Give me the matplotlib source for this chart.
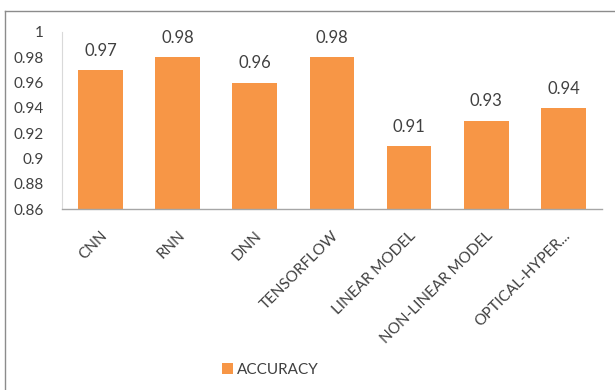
import matplotlib

matplotlib.use("Agg")
import matplotlib.pyplot as plt
from matplotlib.lines import Line2D
from matplotlib.patches import Patch

plt.rcParams["font.family"] = ["Lato", "DejaVu Sans"]

models = [
    "CNN",
    "RNN",
    "DNN",
    "TENSORFLOW",
    "LINEAR MODEL",
    "NON-LINEAR MODEL",
    "OPTICAL-HYPER...",
]
accuracy = [0.97, 0.98, 0.96, 0.98, 0.91, 0.93, 0.94]
y_ticks = [0.86, 0.88, 0.90, 0.92, 0.94, 0.96, 0.98, 1.00]
y_tick_labels = ["0.86", "0.88", "0.9", "0.92", "0.94", "0.96", "0.98", "1"]

BAR_COLOR = "#F79646"
TEXT_COLOR = "#404040"

fig = plt.figure(figsize=(6.15, 3.9), dpi=100)
ax = fig.add_axes([0.1008, 0.464, 0.878, 0.454])

x = range(len(models))
bars = ax.bar(x, accuracy, width=0.58, color=BAR_COLOR, bottom=0)
ax.set_ylim(0.86, 1.0)
ax.set_xlim(-0.5, len(models) - 0.5)

ax.set_yticks(y_ticks)
ax.set_yticklabels(y_tick_labels, fontsize=11, color=TEXT_COLOR)
ax.tick_params(axis="y", length=0, pad=13)
ax.set_xticks(list(x))
ax.set_xticklabels(models, rotation=45, ha="right", rotation_mode="anchor",
                   fontsize=11, color=TEXT_COLOR)
ax.tick_params(axis="x", length=0, pad=14)

for side in ("top", "right"):
    ax.spines[side].set_visible(False)
ax.spines["left"].set_color("#D9D9D9")
ax.spines["bottom"].set_color("#A6A6A6")
ax.spines["bottom"].set_linewidth(1.0)

for bar, value in zip(bars, accuracy):
    ax.annotate(
        f"{value:.2f}",
        (bar.get_x() + bar.get_width() / 2, value),
        xytext=(0, 8),
        textcoords="offset points",
        ha="center",
        va="bottom",
        fontsize=12,
        color=TEXT_COLOR,
    )

handle = Patch(facecolor=BAR_COLOR, edgecolor="none", label="ACCURACY")
fig.legend(handles=[handle], loc="center", bbox_to_anchor=(0.44, 0.051),
           frameon=False, fontsize=11, handlelength=0.7, handleheight=0.7,
           handletextpad=0.3, labelcolor=TEXT_COLOR)

# chart area outline (top and left edges)
fig.add_artist(Line2D([5 / 615, 5 / 615], [0, 1 - 11 / 390],
                      transform=fig.transFigure, color="#8C8C8C", lw=1))
fig.add_artist(Line2D([5 / 615, 1], [1 - 11 / 390, 1 - 11 / 390],
                      transform=fig.transFigure, color="#8C8C8C", lw=1))

fig.savefig("out.png", dpi=100)
